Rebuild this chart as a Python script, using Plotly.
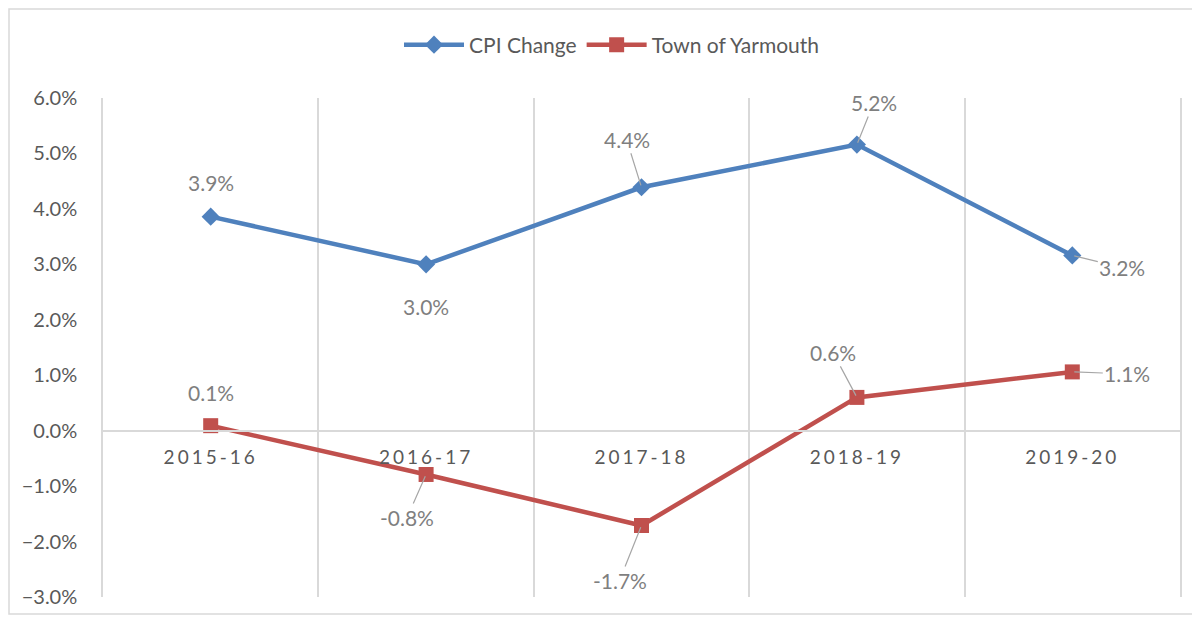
import plotly.graph_objects as go

# Data
years = ['2015-16', '2016-17', '2017-18', '2018-19', '2019-20']
cpi_change = [3.86, 3.0, 4.39, 5.16, 3.16]
yarmouth = [0.09, -0.79, -1.71, 0.6, 1.06]

# label offsets (pixels) for each point, (ax, ay, leader line shown)
cpi_label_pos = [(0, -34, False), (0, 42, False), (-15, -48, True), (17, -42, True), (50, 12, True)]
yar_label_pos = [(0, -33, False), (-19, 43, True), (-22, 55, True), (-24, -45, True), (55, 2, True)]

BLUE = '#4F81BD'
RED = '#C0504D'
FONT = 'Lato, "Open Sans", sans-serif'

# the page body adds an 8px offset, so margins are measured from there
W, H = 1200, 620
L, R, T, B = 95, 28, 90, 31
pw, ph = W - L - R, H - T - B

fig = go.Figure()

fig.add_trace(go.Scatter(
    x=years, y=cpi_change, name='CPI Change',
    mode='lines+markers',
    line=dict(color=BLUE, width=4.5),
    marker=dict(symbol='diamond', size=14, color=BLUE)
))

fig.add_trace(go.Scatter(
    x=years, y=yarmouth, name='Town of Yarmouth',
    mode='lines+markers',
    line=dict(color=RED, width=4.5),
    marker=dict(symbol='square', size=15, color=RED)
))

# data labels with leader lines
def add_labels(values, positions):
    for yr, v, (ax, ay, leader) in zip(years, values, positions):
        if leader:
            fig.add_annotation(
                x=yr, y=v, text=f'{v:.1f}%', showarrow=True,
                arrowhead=0, arrowwidth=1.2, arrowcolor='#a6a6a6',
                ax=ax, ay=ay, standoff=2,
                font=dict(family=FONT, size=21, color='#7f7f7f')
            )
        else:
            fig.add_annotation(
                x=yr, y=v, text=f'{v:.1f}%', showarrow=False,
                xshift=ax, yshift=-ay,
                font=dict(family=FONT, size=21, color='#7f7f7f')
            )

add_labels(cpi_change, cpi_label_pos)
add_labels(yarmouth, yar_label_pos)

# outer chart border
fig.add_shape(
    type='rect', xref='paper', yref='paper', layer='below',
    x0=(1 - L) / pw, x1=(1187 - L) / pw,
    y0=-(606 - T - ph) / ph, y1=1 + (T - 1) / ph,
    line=dict(color='#d9d9d9', width=1.5)
)

fig.update_layout(
    width=W, height=H,
    margin=dict(l=L, r=R, t=T, b=B, autoexpand=False),
    paper_bgcolor='white', plot_bgcolor='white',
    font=dict(family=FONT, size=21, color='#595959'),
    legend=dict(
        orientation='h', x=(612 - 8) / W, xref='container', xanchor='center',
        y=1 - 37 / H, yref='container', yanchor='middle',
        bgcolor='rgba(0,0,0,0)',
        font=dict(family=FONT, size=21, color='#595959'),
        itemwidth=60
    ),
    xaxis=dict(
        type='category', range=[-0.5, 4.5],
        anchor='free', position=3 / 9, automargin=False,
        tickson='boundaries', ticks='', showgrid=True,
        gridcolor='#d9d9d9', gridwidth=1.5,
        showline=True, linecolor='#d9d9d9', linewidth=1.5,
        tickvals=years,
        ticktext=[f'<span style="letter-spacing:3px">{y}</span>' for y in years],
        tickfont=dict(family=FONT, size=19, color='#595959'),
        ticklabelstandoff=10
    ),
    yaxis=dict(
        range=[-3, 6], dtick=1, tickformat='.1f', ticksuffix='%',
        showgrid=False, zeroline=False,
        showline=True, mirror=True, linecolor='#d9d9d9', linewidth=1.5,
        automargin=False,
        tickfont=dict(family=FONT, size=20, color='#595959'),
        ticklabelstandoff=20
    )
)

fig.write_html('out.html')
